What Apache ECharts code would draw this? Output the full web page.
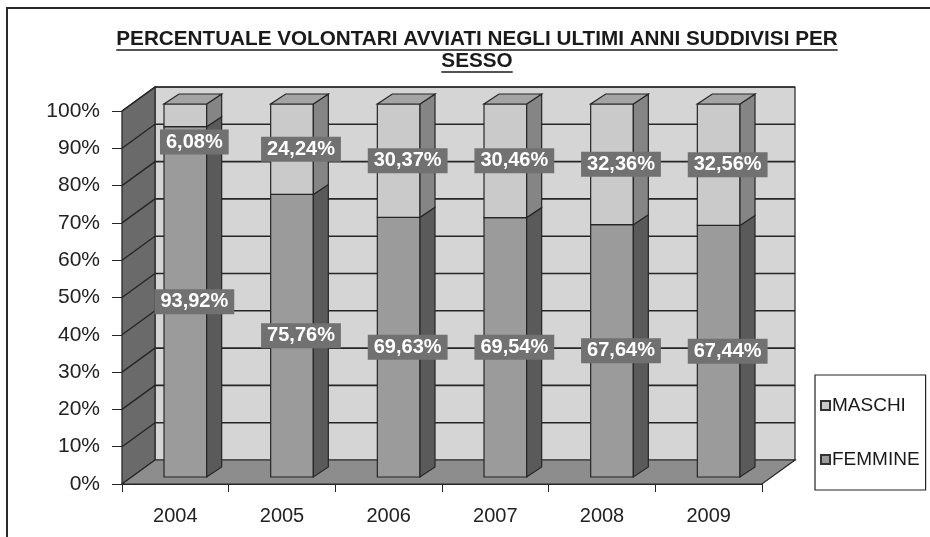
<!DOCTYPE html>
<html><head><meta charset="utf-8">
<script src="https://cdn.jsdelivr.net/npm/echarts@6/dist/echarts.min.js"></script>
<style>html,body{margin:0;padding:0;background:#fff}#c{width:930px;height:537px}</style>
</head><body><div id="c"></div>
<script>
// ---- data ----
const years = ['2004', '2005', '2006', '2007', '2008', '2009'];
const femmine = [93.92, 75.76, 69.63, 69.54, 67.64, 67.44];
const maschi = [6.08, 24.24, 30.37, 30.46, 32.36, 32.56];
const seriesNames = ['MASCHI', 'FEMMINE'];
const titleLines = ['PERCENTUALE VOLONTARI AVVIATI NEGLI ULTIMI ANNI SUDDIVISI PER', 'SESSO'];
const yMin = 0, yMax = 100, yStep = 10;

// ---- style constants ----
const WALL_D = [33, -24];   // depth of back wall
const BAR_O = [10, -7];     // bar front face offset from front plane
const BAR_D = [15, -10];    // bar depth
const BAR_W = 0.40;         // bar width fraction of band
const LINE = '#262626';
const F_FRONT = '#9b9b9b', F_SIDE = '#5a5a5a';
const M_FRONT = '#cacaca', M_SIDE = '#858585', M_TOP = '#a4a4a4';
const AX_FONT = '"Liberation Sans", Arial, sans-serif';

function fmt(v) { return v.toFixed(2).replace('.', ',') + '%'; }

const chart = echarts.init(document.getElementById('c'), null, { renderer: 'canvas' });

function wallsItem(params, api) {
  const cs = params.coordSys;
  const x0 = cs.x, x1 = cs.x + cs.width, yT = cs.y, yB = cs.y + cs.height;
  const dx = WALL_D[0], dy = WALL_D[1];
  const ch = [];
  ch.push({ type: 'rect', shape: { x: x0 + dx, y: yT + dy, width: cs.width, height: cs.height },
    style: { fill: '#d5d5d5', stroke: LINE, lineWidth: 1.2 } });
  ch.push({ type: 'polygon', shape: { points: [[x0, yB], [x0, yT], [x0 + dx, yT + dy], [x0 + dx, yB + dy]] },
    style: { fill: '#6a6a6a', stroke: LINE, lineWidth: 1.2 } });
  ch.push({ type: 'polygon', shape: { points: [[x0, yB], [x1, yB], [x1 + dx, yB + dy], [x0 + dx, yB + dy]] },
    style: { fill: '#8d8d8d', stroke: LINE, lineWidth: 1.2 } });
  for (let v = yMin + yStep; v <= yMax; v += yStep) {
    const y = api.coord([0, v])[1];
    ch.push({ type: 'line', shape: { x1: x0 + dx, y1: y + dy, x2: x1 + dx, y2: y + dy },
      style: { stroke: LINE, lineWidth: 1.6 } });
    ch.push({ type: 'line', shape: { x1: x0, y1: y, x2: x0 + dx, y2: y + dy },
      style: { stroke: LINE, lineWidth: 1.4 } });
  }
  return { type: 'group', children: ch };
}

function barItem(isTop, front, side, topCol) {
  return function (params, api) {
    const idx = api.value(0), base = api.value(1), val = api.value(2);
    const pb = api.coord([idx, base]), pt = api.coord([idx, base + val]);
    const bw = api.size([1, 0])[0];
    const w = bw * BAR_W;
    const xl = pb[0] + BAR_O[0] - w / 2, xr = xl + w;
    const yb = pb[1] + BAR_O[1], yt = pt[1] + BAR_O[1];
    const dx = BAR_D[0], dy = BAR_D[1];
    const ch = [];
    ch.push({ type: 'rect', shape: { x: xl, y: yt, width: w, height: yb - yt },
      style: { fill: front, stroke: LINE, lineWidth: 1.2 } });
    ch.push({ type: 'polygon', shape: { points: [[xr, yb], [xr, yt], [xr + dx, yt + dy], [xr + dx, yb + dy]] },
      style: { fill: side, stroke: LINE, lineWidth: 1.2 } });
    if (isTop) {
      ch.push({ type: 'polygon', shape: { points: [[xl, yt], [xr, yt], [xr + dx, yt + dy], [xl + dx, yt + dy]] },
        style: { fill: topCol, stroke: LINE, lineWidth: 1.2 } });
    }
    const mid = Math.min(base + val / 2, 89.8);
    const ly = api.coord([idx, mid])[1] + BAR_O[1];
    ch.push({ type: 'text', z2: 10, style: {
      text: fmt(val), x: xl + w / 2 + 9, y: ly, align: 'center', verticalAlign: 'middle',
      fill: '#ffffff', font: 'bold 20px ' + AX_FONT, backgroundColor: '#717171', padding: [3, 6, 2, 6] } });
    return { type: 'group', children: ch };
  };
}

const femData = years.map((y, i) => [i, 0, femmine[i]]);
const masData = years.map((y, i) => [i, femmine[i], maschi[i]]);

// title & underline
const meas = document.createElement('canvas').getContext('2d');
const titleFont = 'bold 20.7px "Liberation Sans Narrow", "Liberation Sans", Arial, sans-serif';
meas.font = titleFont;
const graphics = [];
const tcx = 477;
const tY = [40, 62];
titleLines.forEach((t, i) => {
  const w = meas.measureText(t).width;
  graphics.push({ type: 'text', left: tcx - w / 2, top: tY[i] - 11, style: { text: t, font: titleFont, fill: '#1a1a1a' } });
  graphics.push({ type: 'line', shape: { x1: tcx - w / 2, y1: tY[i] + 10, x2: tcx + w / 2, y2: tY[i] + 10 },
    style: { stroke: '#1a1a1a', lineWidth: 1.6 } });
});
graphics.push({ type: 'rect', shape: { x: 7, y: 8, width: 1000, height: 1000 }, style: { fill: 'none', stroke: '#2a2a2a', lineWidth: 2 } });

chart.setOption({
  animation: false,
  backgroundColor: '#ffffff',
  graphic: graphics,
  grid: { left: 122, right: 168, top: 111, bottom: 53 },
  legend: {
    data: seriesNames, orient: 'vertical', left: 815, top: 375,
    icon: 'rect', itemWidth: 9, itemHeight: 9, itemGap: 35,
    padding: [21, 6, 21, 5], borderColor: '#222', borderWidth: 1.2,
    textStyle: { fontFamily: AX_FONT, fontSize: 19, color: '#1a1a1a', padding: [0, 0, 0, -3] }
  },
  xAxis: {
    type: 'category', data: years,
    axisLine: { show: true, lineStyle: { color: LINE, width: 1.2 } },
    axisTick: { show: true, length: 8, lineStyle: { color: LINE } },
    axisLabel: { fontFamily: AX_FONT, fontSize: 20, color: '#222', margin: 22 },
    splitLine: { show: false }
  },
  yAxis: {
    type: 'value', min: yMin, max: yMax, interval: yStep,
    axisLine: { show: true, lineStyle: { color: LINE, width: 1.2 } },
    axisTick: { show: true, length: 10, lineStyle: { color: LINE } },
    axisLabel: { fontFamily: AX_FONT, fontSize: 21, color: '#222', margin: 22, formatter: '{value}%' },
    splitLine: { show: false }
  },
  series: [
    { type: 'custom', name: 'walls', clip: false, silent: true, data: [[0]], renderItem: wallsItem, z: 1 },
    { type: 'custom', name: 'FEMMINE', clip: false, data: femData, renderItem: barItem(false, F_FRONT, F_SIDE), z: 3,
      itemStyle: { color: F_FRONT, borderColor: '#333', borderWidth: 1 }, encode: { x: 0, y: 2 } },
    { type: 'custom', name: 'MASCHI', clip: false, data: masData, renderItem: barItem(true, M_FRONT, M_SIDE, M_TOP), z: 3,
      itemStyle: { color: M_FRONT, borderColor: '#333', borderWidth: 1 }, encode: { x: 0, y: 2 } }
  ]
});
</script></body></html>
